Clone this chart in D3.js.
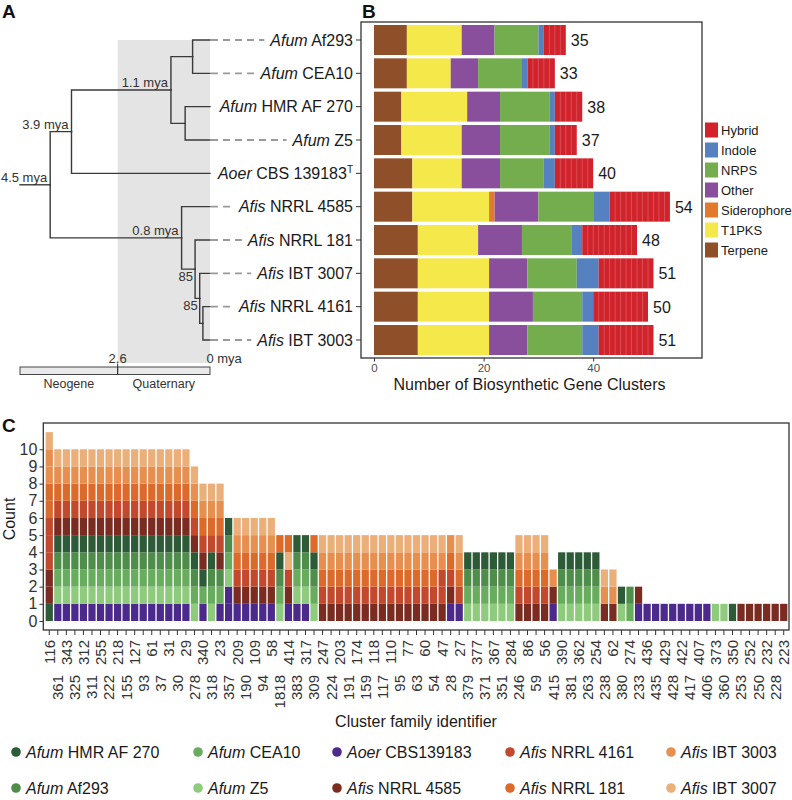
<!DOCTYPE html>
<html><head><meta charset="utf-8">
<script src="https://cdn.jsdelivr.net/npm/d3@7/dist/d3.min.js"></script>
<style>
body{margin:0;background:#fff;}
svg text{font-family:"Liberation Sans",Arial,Helvetica,sans-serif;}
</style></head>
<body>
<svg id="chart" width="792" height="800"></svg>
<script>
// ---------------- DATA ----------------
// Panel A / B strains (top to bottom)
const strainGenus = ["Afum","Afum","Afum","Afum","Aoer","Afis","Afis","Afis","Afis","Afis"];
const strainNames = ["Af293","CEA10","HMR AF 270","Z5","CBS 139183","NRRL 4585","NRRL 181","IBT 3007","NRRL 4161","IBT 3003"];

// Panel B: BGC counts per type
const bgcTypes = ["Terpene","T1PKS","Siderophore","Other","NRPS","Indole","Hybrid"];
const bgcTerpene     = [6,6,5,5,7,7,8,8,8,8];
const bgcT1PKS       = [10,8,12,11,9,14,11,13,13,13];
const bgcSiderophore = [0,0,0,0,0,1,0,0,0,0];
const bgcOther       = [6,5,6,7,7,8,8,7,8,7];
const bgcNRPS        = [8,8,9,9,8,10,9,9,9,10];
const bgcIndole      = [1,1,1,1,2,3,2,4,2,3];
const bgcHybrid      = [4,5,5,4,7,11,10,10,10,10];
const bgcTicks = [0,20,40];

// Panel A: tree (ages in million years)
const nodeIds     = ["root","n39","nAfum","nAfA","nAfB","nAfis","nC","nD","nE"];
const nodeParents = [null,"root","n39","nAfum","nAfum","root","nAfis","nC","nD"];
const nodeAges    = [4.5,3.9,1.1,0.49,0.7,0.8,0.42,0.29,0.2];
const nodeLabels  = ["4.5 mya","3.9 mya","1.1 mya","","","0.8 mya","85","85",""];
const leafParents = ["nAfA","nAfA","nAfB","nAfB","n39","nAfis","nC","nD","nE","nE"];
const rootStubAge = 5.35;
const timeTickAges = [2.6, 0];
const timeTickLabels = ["2.6","0 mya"];
const eraNames = ["Neogene","Quaternary"];
const eraBounds = [5.35, 2.6, 0];

// Panel C: cluster families, stacked strains (bottom to top)
// p=Aoer, z=Z5, c=CEA10, a=Af293, h=HMR AF 270, d=NRRL 4585, r=NRRL 4161, o=NRRL 181, t=IBT 3003, s=IBT 3007
const clusterIds = ["116","361","343","325","312","311","255","222","218","155","127","93","61","37","31","30","29","278","340","318","23","357","209","190","109","94","58","1818","414","383","317","309","247","224","203","191","174","159","118","117","110","95","77","63","60","54","47","28","27","379","377","371","367","351","284","246","86","59","56","415","390","381","362","263","254","238","62","380","274","233","436","435","429","428","422","417","407","406","373","360","350","253","252","250","232","228","223"];
const clusterStacks = ["hddrrrootts",
 "pzcahdrots","pzcahdrots","pzcahdrots","pzcahdrots","pzcahdrots","pzcahdrots","pzcahdrots","pzcahdrots",
 "pzcahdrots","pzcahdrots","pzcahdrots","pzcahdrots","pzcahdrots","pzcahdrots","pzcahdrots","pzcahdrots",
 "zcahdrots","pchdrots","zcahrots","pcadrots","ppzcah",
 "pdrots","pdrots","pdrots","pdrots","pdrots",
 "zcaho","pdrso","pzcah","pzcah","zcaho",
 "drots","drots","drots","drots","drots","drots","drots","drots","drots","drots","drots","drots","drots","drots",
 "drrts","pdrot","prots",
 "zcah","zcah","zcah","zcah","zcah","zcah",
 "drots","drots","drots","drots",
 "pdt",
 "zcah","zcah","zcah","zcah","zcah",
 "dts","dts","zh","ca","pd",
 "p","p","p","p","p","p","p","p",
 "z","z","h",
 "d","d","d","d","d","d"];
const countTicks = [0,1,2,3,4,5,6,7,8,9,10];
const legendKeys  = ["h","c","p","r","t","a","z","d","o","s"];
const legendGenus = ["Afum","Afum","Aoer","Afis","Afis","Afum","Afum","Afis","Afis","Afis"];
const legendNames = ["HMR AF 270","CEA10","CBS139183","NRRL 4161","IBT 3003","Af293","Z5","NRRL 4585","NRRL 181","IBT 3007"];

// ---------------- STYLES ----------------
const bgcColors = {Terpene:"#8f4f29",T1PKS:"#f5e84b",Siderophore:"#e27a2c",Other:"#894f9d",NRPS:"#73ad4e",Indole:"#5581c1",Hybrid:"#d1232b"};
const strainColors = {p:"#4b2a8b",z:"#8fcb7d",c:"#68ad5d",a:"#4f8d4a",h:"#2e5b37",d:"#7b2c20",r:"#c2492c",o:"#dc6a2b",t:"#e68f4e",s:"#ebb07a"};
const ink = "#333";

const svg = d3.select("#chart");

// ---------------- PANEL LABELS ----------------
[["A",2,18],["B",362,18],["C",2,432]].forEach(([t,x,y])=>{
  svg.append("text").attr("x",x).attr("y",y).attr("font-size",19).attr("font-weight","bold").attr("fill","#111").text(t);
});

// ---------------- PANEL A ----------------
const tX = d3.scaleLinear().domain([rootStubAge,0]).range([20,210]);
const yRow = d3.scalePoint().domain(strainNames).range([40,340]);

svg.append("rect").attr("x",tX(2.6)).attr("y",40).attr("width",tX(0)-tX(2.6)).attr("height",323).attr("fill","#e4e4e4");

const pos = {};
strainNames.forEach((n,i)=>{ pos["leaf"+i] = {x:tX(0), y:yRow(n)}; });
function nodePos(id){
  if(pos[id]) return pos[id];
  const i = nodeIds.indexOf(id);
  const kids = nodeIds.filter((k,j)=>nodeParents[j]===id).map(nodePos)
     .concat(leafParents.map((p,j)=>p===id?pos["leaf"+j]:null).filter(Boolean));
  pos[id] = {x:tX(nodeAges[i]), y:d3.mean(kids,d=>d.y)};
  return pos[id];
}
nodeIds.forEach(nodePos);

const tree = svg.append("g").attr("fill","none").attr("stroke","#3a3a3a").attr("stroke-width",1.4).attr("stroke-linecap","square");
nodeIds.forEach((id,j)=>{
  if(!nodeParents[j]) return;
  const p = pos[nodeParents[j]], c = pos[id];
  tree.append("path").attr("d",`M${p.x},${p.y}V${c.y}H${c.x}`);
});
leafParents.forEach((pid,j)=>{
  const p = pos[pid], c = pos["leaf"+j];
  tree.append("path").attr("d",`M${p.x},${p.y}V${c.y}H${c.x}`);
});
tree.append("path").attr("d",`M${tX(rootStubAge)},${pos.root.y}H${pos.root.x}`);

nodeIds.forEach((id,j)=>{
  const lab = nodeLabels[j]; if(!lab) return;
  const p = pos[id];
  const isBoot = lab==="85";
  svg.append("text").attr("x",p.x-(isBoot?2:3)).attr("y",isBoot?p.y+12:p.y-3)
    .attr("text-anchor","end").attr("font-size",13).attr("fill",ink).text(lab);
});

// leaf labels + dashed leaders
strainNames.forEach((n,i)=>{
  const y = yRow(n);
  const t = svg.append("text").attr("x",353).attr("y",y+5.5).attr("text-anchor","end").attr("font-size",16).attr("fill","#1a1a1a");
  t.append("tspan").attr("font-style","italic").text(strainGenus[i]);
  t.append("tspan").text(" "+n);
  if(strainGenus[i]==="Aoer") t.append("tspan").attr("font-size",10).attr("dy",-6).text("T");
  const bb = t.node().getBBox();
  if(bb.x-5-211 > 6){
    svg.append("line").attr("x1",211).attr("x2",bb.x-5).attr("y1",y).attr("y2",y)
      .attr("stroke","#9a9a9a").attr("stroke-width",1.8).attr("stroke-dasharray","7,5");
  }
});

// time axis
timeTickAges.forEach((a,i)=>{
  const x = tX(a);
  svg.append("text").attr("x",a===0?x-3.6:x).attr("y",362.5).attr("text-anchor",a===0?"start":"middle")
    .attr("font-size",13).attr("fill",ink).text(timeTickLabels[i]);
});
eraNames.forEach((e,i)=>{
  const x0 = tX(eraBounds[i]), x1 = tX(eraBounds[i+1]);
  svg.append("rect").attr("x",x0).attr("y",367).attr("width",x1-x0).attr("height",7.5)
    .attr("fill","#e9e9e9").attr("stroke",ink).attr("stroke-width",0.9);
  svg.append("text").attr("x",(x0+x1)/2).attr("y",388).attr("text-anchor","middle").attr("font-size",12.5).attr("fill",ink).text(e);
});
svg.append("line").attr("x1",tX(2.6)).attr("x2",tX(2.6)).attr("y1",363.5).attr("y2",375).attr("stroke",ink).attr("stroke-width",1);

// ---------------- PANEL B ----------------
const xB = d3.scaleLinear().domain([0,60]).range([374,374+60*5.48]);
const bgcArrays = {Terpene:bgcTerpene,T1PKS:bgcT1PKS,Siderophore:bgcSiderophore,Other:bgcOther,NRPS:bgcNRPS,Indole:bgcIndole,Hybrid:bgcHybrid};
const rows = strainNames.map((n,i)=>{ const r={name:n}; bgcTypes.forEach(k=>r[k]=bgcArrays[k][i]); return r; });
const stacked = d3.stack().keys(bgcTypes)(rows);
const gB = svg.append("g");
stacked.forEach(series=>{
  series.forEach(d=>{
    if(d[1]<=d[0]) return;
    const yc = yRow(d.data.name);
    gB.append("rect").attr("x",xB(d[0])).attr("y",yc-15).attr("width",xB(d[1])-xB(d[0])).attr("height",30)
      .attr("fill",bgcColors[series.key]);
    if(series.key==="Hybrid"){
      for(let k=d[0]+1;k<d[1];k++){
        gB.append("line").attr("x1",xB(k)).attr("x2",xB(k)).attr("y1",yc-15).attr("y2",yc+15)
          .attr("stroke","rgba(255,255,255,0.22)").attr("stroke-width",0.9);
      }
    }
  });
});
rows.forEach(r=>{
  const tot = d3.sum(bgcTypes,k=>r[k]);
  const yc = yRow(r.name);
  svg.append("text").attr("x",xB(tot)+5).attr("y",yc+6).attr("font-size",16).attr("fill","#1a1a1a").text(tot);
  svg.append("line").attr("x1",356).attr("x2",361).attr("y1",yc).attr("y2",yc).attr("stroke",ink).attr("stroke-width",1);
});
svg.append("rect").attr("x",361).attr("y",22).attr("width",341).attr("height",336).attr("fill","none").attr("stroke",ink).attr("stroke-width",1.3);
const axB = svg.append("g").attr("transform","translate(0,358)")
  .call(d3.axisBottom(xB).tickValues(bgcTicks).tickSize(3.5).tickPadding(2.5).tickSizeOuter(0));
axB.select(".domain").remove();
axB.selectAll("line").attr("stroke",ink);
axB.selectAll("text").attr("font-size",11.5).attr("fill","#4d4d4d").attr("font-family",null);
svg.append("text").attr("x",529.5).attr("y",389.5).attr("text-anchor","middle").attr("font-size",16).attr("fill","#1a1a1a")
  .text("Number of Biosynthetic Gene Clusters");
bgcTypes.slice().reverse().forEach((k,i)=>{
  const c = 130+20*i;
  svg.append("rect").attr("x",705).attr("y",c-7.5).attr("width",13).attr("height",15).attr("fill",bgcColors[k]);
  svg.append("text").attr("x",721).attr("y",c+4.5).attr("font-size",13).attr("fill","#1a1a1a").text(k);
});

// ---------------- PANEL C ----------------
const xC = d3.scaleBand().domain(clusterIds).range([45,788]).padding(0);
const yC = d3.scaleLinear().domain([0,11]).range([621,432.1]);
const bw = xC.bandwidth();
const gC = svg.append("g");
clusterIds.forEach((id,i)=>{
  const st = clusterStacks[i];
  for(let j=0;j<st.length;j++){
    gC.append("rect").attr("x",xC(id)+0.65).attr("width",bw-1.3)
      .attr("y",yC(j+1)).attr("height",yC(j)-yC(j+1)).attr("fill",strainColors[st[j]]);
  }
});
svg.append("rect").attr("x",43.3).attr("y",423).attr("width",745.7).attr("height",207).attr("fill","none").attr("stroke",ink).attr("stroke-width",1.3);
const ayC = svg.append("g").attr("transform","translate(43.3,0)")
  .call(d3.axisLeft(yC).tickValues(countTicks).tickSize(3.8));
ayC.select(".domain").remove();
ayC.selectAll("line").attr("stroke",ink);
ayC.selectAll("text").attr("font-size",16).attr("fill","#333").attr("font-family",null).attr("x",-6);
svg.append("text").attr("transform","translate(15,519) rotate(-90)").attr("text-anchor","middle").attr("font-size",16).attr("fill","#1a1a1a").text("Count");

clusterIds.forEach((id,i)=>{
  const cx = xC(id)+bw/2;
  svg.append("line").attr("x1",cx).attr("x2",cx).attr("y1",630).attr("y2",635).attr("stroke",ink).attr("stroke-width",1);
  const y0 = i%2===0 ? 640 : 675;
  svg.append("text").attr("transform",`translate(${cx},${y0}) rotate(-90)`).attr("text-anchor","end").attr("dy","0.36em")
    .attr("font-size",15).attr("fill","#333").text(id);
});
svg.append("text").attr("x",416).attr("y",727).attr("text-anchor","middle").attr("font-size",16).attr("fill","#1a1a1a").text("Cluster family identifier");

const legX = [16,198,337,510,671];
const legY = [752,788];
legendKeys.forEach((k,i)=>{
  const x = legX[i%5], y = legY[Math.floor(i/5)];
  svg.append("circle").attr("cx",x).attr("cy",y).attr("r",4.8).attr("fill",strainColors[k]);
  const t = svg.append("text").attr("x",x+10).attr("y",y+5.5).attr("font-size",16).attr("fill","#1a1a1a");
  t.append("tspan").attr("font-style","italic").text(legendGenus[i]);
  t.append("tspan").text(" "+legendNames[i]);
});
</script>
</body></html>
